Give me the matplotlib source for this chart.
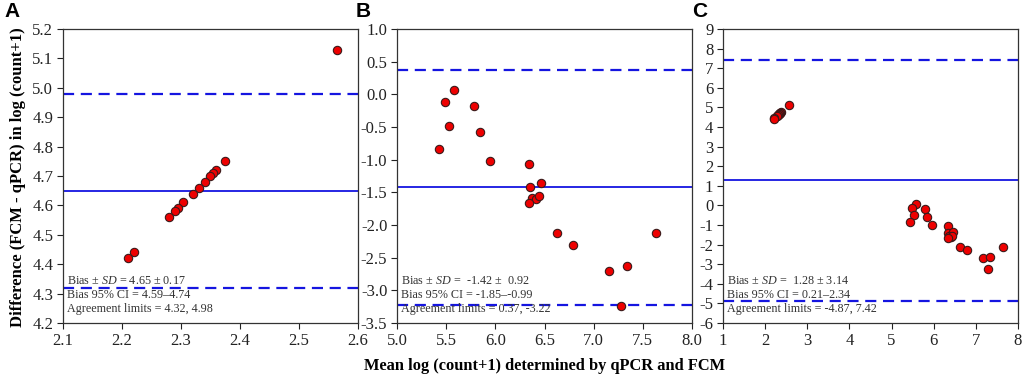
import numpy as np
import matplotlib
matplotlib.use("Agg")
import matplotlib.pyplot as plt

plt.rcParams['font.family'] = ['Liberation Serif', 'DejaVu Serif']
plt.rcParams['mathtext.fontset'] = 'custom'
plt.rcParams['mathtext.rm'] = 'Liberation Serif'
plt.rcParams['mathtext.it'] = 'Liberation Serif:italic'
plt.rcParams['axes.unicode_minus'] = False

# Panel A data (mean, difference)
a_mean = [2.565, 2.375, 2.360, 2.355, 2.350, 2.340, 2.330, 2.320, 2.304,
          2.295, 2.290, 2.280, 2.220, 2.210]
a_diff = [5.13, 4.75, 4.72, 4.71, 4.70, 4.68, 4.66, 4.64, 4.61,
          4.59, 4.58, 4.56, 4.44, 4.42]

# Panel B data
b_mean = [5.584, 5.493, 5.527, 5.432, 5.788, 5.846, 5.948, 6.339, 6.349,
          6.461, 6.369, 6.410, 6.440, 6.339, 6.631, 6.791, 7.161, 7.337,
          7.280, 7.637]
b_diff = [0.07, -0.11, -0.48, -0.83, -0.18, -0.58, -1.02, -1.06, -1.42,
          -1.36, -1.58, -1.60, -1.56, -1.66, -2.12, -2.30, -2.70, -2.62,
          -3.24, -2.13]

# Panel C = combined
c_mean = a_mean + b_mean
c_diff = a_diff + b_diff

bias = [4.65, -1.42, 1.28]
lower = [4.32, -3.22, -4.87]
upper = [4.98, 0.37, 7.42]
texts = [
    ["Bias \u00b1 $SD$ = 4.65 \u00b1 0.17", "Bias 95% CI = 4.59\u20134.74",
     "Agreement limits = 4.32, 4.98"],
    ["Bias \u00b1 $SD$ =  -1.42 \u00b1  0.92", "Bias 95% CI = -1.85\u2013-0.99",
     "Agreement limits = 0.37, -3.22"],
    ["Bias \u00b1 $SD$ =  1.28 \u00b1 3.14", "Bias 95% CI = 0.21\u20132.34",
     "Agreement limits = -4.87, 7.42"],
]
panel_labels = ["A", "B", "C"]
xlims = [(2.1, 2.6), (5.0, 8.0), (1, 8)]
ylims = [(4.2, 5.2), (-3.5, 1.0), (-6, 9)]
xticks = [np.arange(2.1, 2.61, 0.1), np.arange(5.0, 8.01, 0.5), np.arange(1, 9, 1)]
yticks = [np.arange(4.2, 5.21, 0.1), np.arange(-3.5, 1.01, 0.5), np.arange(-6, 10, 1)]
fmts = ["{:.1f}", "{:.1f}", "{:.0f}"]
fmts_y = ["{:.1f}", "{:.1f}", "{:.0f}"]

fig = plt.figure(figsize=(10.24, 3.82), dpi=100)
lefts = [63 / 1024, 397 / 1024, 723 / 1024]
w = 295 / 1024
b = 1 - 323 / 382
h = 294 / 382
label_x = [4 / 1024, 356 / 1024, 692 / 1024]

data = [(a_mean, a_diff), (b_mean, b_diff), (c_mean, c_diff)]
for i in range(3):
    ax = fig.add_axes([lefts[i], b, w, h])
    xs, ys = data[i]
    ax.axhline(bias[i], color='#1515e0', lw=1.3, zorder=2)
    ax.axhline(lower[i], color='#1515e0', lw=1.6, ls=(0, (5, 3)), zorder=2)
    ax.axhline(upper[i], color='#1515e0', lw=1.6, ls=(0, (5, 3)), zorder=2)
    ax.plot(xs, ys, 'o', ms=6, mfc='#ee0000', mec='#3a1a1a', mew=0.8,
            ls='none', zorder=3)
    ax.set_xlim(*xlims[i])
    ax.set_ylim(*ylims[i])
    ax.set_xticks(xticks[i])
    ax.set_xticklabels([fmts[i].format(v) for v in xticks[i]])
    ax.set_yticks(yticks[i])
    ax.set_yticklabels([fmts_y[i].format(v) for v in yticks[i]])
    ax.tick_params(direction='out', length=4, width=0.8, labelsize=12,
                   colors='#222222', pad=3)
    for s in ax.spines.values():
        s.set_color('#333333')
        s.set_linewidth(0.9)
    for j, t in enumerate(texts[i]):
        ax.text(0.013, 0.144 - 0.048 * j, t, transform=ax.transAxes,
                fontsize=8.7, color='#333333', va='center', ha='left', zorder=4)
    fig.text(label_x[i], 0.995, panel_labels[i], fontsize=15, fontweight='bold',
             family='Liberation Sans', va='top', ha='left')

fig.text(18 / 1024, 1 - 177 / 382, "Difference (FCM - qPCR) in log (count+1)",
         rotation=90, fontsize=12, fontweight='bold', va='center', ha='center')
fig.text(545 / 1024, 1 - 366 / 382, "Mean log (count+1) determined by qPCR and FCM",
         fontsize=11.8, fontweight='bold', va='center', ha='center')

fig.savefig("out.png", dpi=100)
